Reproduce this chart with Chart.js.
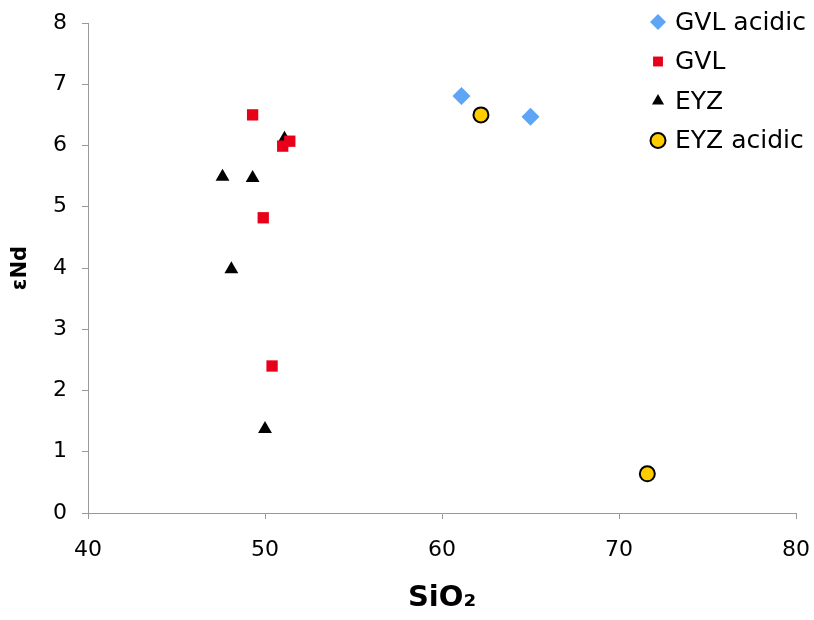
<!DOCTYPE html>
<html lang="en">
<head>
    <meta charset="UTF-8">
    <title>SiO2 vs eNd</title>
    <script src="https://cdn.jsdelivr.net/npm/chart.js"></script>
    <style>
        body {
            margin: 0;
            background: #fff;
        }
        #wrap {
            width: 814px;
            height: 620px;
        }
    </style>
</head>
<body>
    <div id="wrap"><canvas id="scatter"></canvas></div>

    <script>
        // Series values (SiO2, eNd)
        const gvlAcidicX = [61.1, 65.0];
        const gvlAcidicY = [6.81, 6.47];

        const gvlX = [49.3, 51.0, 51.4, 49.9, 50.4];
        const gvlY = [6.50, 5.99, 6.07, 4.82, 2.40];

        const eyzX = [47.6, 49.3, 51.1, 48.1, 50.0];
        const eyzY = [5.49, 5.47, 6.11, 3.98, 1.37];

        const eyzAcidicX = [62.2, 71.6];
        const eyzAcidicY = [6.50, 0.64];

        const toPoints = (xs, ys) => xs.map((x, i) => ({ x: x, y: ys[i] }));

        const font = "'DejaVu Sans', Verdana, sans-serif";

        // legend drawn in the upper right corner, over the plot
        const cornerLegend = {
            id: 'cornerLegend',
            afterDraw(chart) {
                const c = chart.ctx;
                c.save();
                c.font = '25px ' + font;
                c.textBaseline = 'middle';
                chart.data.datasets.forEach((ds, i) => {
                    const y = 22 + i * 39.5;
                    c.fillStyle = ds.backgroundColor;
                    c.strokeStyle = ds.borderColor;
                    c.lineWidth = ds.borderWidth;
                    Chart.helpers.drawPoint(c, {
                        pointStyle: ds.pointStyle,
                        radius: ds.legendRadius,
                        borderWidth: ds.borderWidth
                    }, 658, y);
                    c.fillStyle = '#000';
                    c.fillText(ds.label, 675, y + 1);
                });
                c.restore();
            }
        };

        new Chart(document.getElementById('scatter'), {
            type: 'scatter',
            data: {
                datasets: [
                    {
                        label: 'GVL acidic',
                        data: toPoints(gvlAcidicX, gvlAcidicY),
                        pointStyle: 'rectRot',
                        pointRadius: 9,
                        legendRadius: 8,
                        backgroundColor: '#5fa5f5',
                        borderColor: '#5fa5f5',
                        borderWidth: 0
                    },
                    {
                        label: 'GVL',
                        data: toPoints(gvlX, gvlY),
                        pointStyle: 'rect',
                        pointRadius: 8,
                        legendRadius: 7,
                        backgroundColor: '#e8001a',
                        borderColor: '#e8001a',
                        borderWidth: 0
                    },
                    {
                        label: 'EYZ',
                        data: toPoints(eyzX, eyzY),
                        pointStyle: 'triangle',
                        pointRadius: 8,
                        legendRadius: 7,
                        backgroundColor: '#000',
                        borderColor: '#000',
                        borderWidth: 0
                    },
                    {
                        label: 'EYZ acidic',
                        data: toPoints(eyzAcidicX, eyzAcidicY),
                        pointStyle: 'circle',
                        pointRadius: 7.5,
                        legendRadius: 7.5,
                        backgroundColor: '#ffcc00',
                        borderColor: '#000',
                        borderWidth: 2
                    }
                ]
            },
            options: {
                responsive: true,
                maintainAspectRatio: false,
                animation: false,
                layout: {
                    padding: { top: 23, right: 18, bottom: 0, left: 8 }
                },
                plugins: {
                    legend: { display: false },
                    tooltip: { enabled: false }
                },
                scales: {
                    x: {
                        type: 'linear',
                        min: 40,
                        max: 80,
                        afterFit(scale) {
                            scale.height = 107;
                            scale.paddingLeft = 0;
                            scale.paddingRight = 0;
                        },
                        ticks: {
                            stepSize: 10,
                            color: '#000',
                            font: { family: font, size: 22 },
                            padding: 18
                        },
                        grid: {
                            drawOnChartArea: false,
                            drawTicks: true,
                            tickLength: 6,
                            color: '#999'
                        },
                        border: { color: '#999' },
                        title: {
                            display: true,
                            text: 'SiO\u2082',
                            color: '#000',
                            font: { family: font, size: 29, weight: 'bold' },
                            padding: { top: 0, bottom: 4 }
                        }
                    },
                    y: {
                        min: 0,
                        max: 8,
                        afterFit(scale) {
                            scale.width = 80;
                            scale.paddingTop = 0;
                            scale.paddingBottom = 0;
                        },
                        ticks: {
                            stepSize: 1,
                            color: '#000',
                            font: { family: font, size: 22 },
                            padding: 15
                        },
                        grid: {
                            drawOnChartArea: false,
                            drawTicks: true,
                            tickLength: 6,
                            color: '#999'
                        },
                        border: { color: '#999' },
                        title: {
                            display: true,
                            text: '\u03B5Nd',
                            color: '#000',
                            font: { family: font, size: 21, weight: 'bold' },
                            padding: { top: 0, bottom: 0 }
                        }
                    }
                }
            },
            plugins: [cornerLegend]
        });
    </script>
</body>
</html>
